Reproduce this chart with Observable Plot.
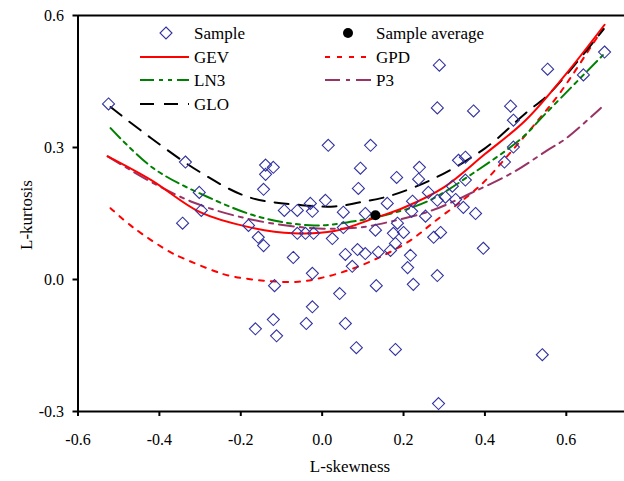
<!DOCTYPE html>
<html><head><meta charset="utf-8">
<script src="https://cdn.jsdelivr.net/npm/d3@7"></script>
<script src="https://cdn.jsdelivr.net/npm/@observablehq/plot@0.6"></script>
<style>
body{margin:0;background:#fff}
#chart{position:relative;width:624px;height:481px}
#chart svg g[aria-label*="axis"] line, #chart svg g[aria-label*="axis"] path{stroke-width:2px}
</style>
</head><body><div id="chart"></div>
<script>
// Sample L-moment ratios (L-skewness, L-kurtosis)
const sampleSkew = [-0.525,-0.336,-0.302,-0.297,-0.343,-0.139,-0.120,-0.139,-0.144,0.015,0.119,0.094,0.239,0.183,0.237,0.089,0.008,-0.029,-0.061,-0.093,-0.024,0.052,0.160,0.222,0.220,0.106,0.254,-0.181,-0.157,-0.144,-0.061,-0.041,-0.021,0.025,0.052,0.131,0.185,0.175,0.200,0.180,0.274,0.291,-0.071,0.057,0.087,0.106,0.138,0.168,0.217,0.210,0.074,-0.024,0.283,0.396,0.288,0.283,0.372,0.463,0.470,0.470,0.554,0.694,0.642,0.335,0.352,0.448,0.352,0.261,0.283,0.303,0.320,0.328,0.347,0.377,-0.117,0.133,0.224,0.043,-0.024,-0.164,-0.120,-0.112,-0.039,0.057,0.084,0.180,0.541,0.286];
const sampleKurt = [0.399,0.267,0.198,0.157,0.128,0.260,0.255,0.239,0.205,0.305,0.305,0.253,0.255,0.232,0.228,0.207,0.180,0.173,0.157,0.157,0.155,0.153,0.173,0.178,0.155,0.150,0.144,0.123,0.096,0.077,0.105,0.105,0.105,0.093,0.118,0.112,0.128,0.105,0.107,0.082,0.096,0.107,0.050,0.057,0.068,0.059,0.062,0.066,0.055,0.027,0.030,0.014,0.009,0.071,0.487,0.390,0.383,0.394,0.362,0.301,0.478,0.517,0.465,0.271,0.278,0.267,0.226,0.198,0.180,0.187,0.212,0.182,0.164,0.150,-0.014,-0.014,-0.011,-0.032,-0.062,-0.112,-0.091,-0.128,-0.100,-0.100,-0.155,-0.159,-0.171,-0.282];
const avgSkew = [0.131];
const avgKurt = [0.146];

// Theoretical curves
const gevX = [-0.527,-0.42,-0.3,-0.18,-0.07,0.03,0.13,0.2,0.3,0.4,0.5,0.6,0.694];
const gevY = [0.280,0.226,0.153,0.119,0.105,0.110,0.140,0.163,0.210,0.285,0.362,0.468,0.579];
const gpdX = [-0.52,-0.464,-0.373,-0.341,-0.267,-0.23,-0.15,-0.058,0.013,0.082,0.151,0.217,0.274,0.389,0.463,0.537,0.586,0.667,0.69];
const gpdY = [0.162,0.118,0.062,0.048,0.020,0.009,-0.002,-0.005,0.007,0.027,0.055,0.089,0.130,0.214,0.289,0.369,0.426,0.538,0.570];
const ln3X = [-0.52,-0.415,-0.28,-0.15,-0.02,0.09,0.17,0.26,0.37,0.49,0.55,0.69];
const ln3Y = [0.344,0.253,0.187,0.141,0.123,0.134,0.150,0.178,0.241,0.321,0.378,0.510];
const p3X = [-0.527,-0.415,-0.316,-0.218,-0.12,-0.01,0.09,0.17,0.27,0.365,0.47,0.554,0.6,0.685];
const p3Y = [0.280,0.219,0.175,0.146,0.127,0.116,0.118,0.132,0.157,0.196,0.244,0.294,0.321,0.390];
const gloX = [-0.52,-0.42,-0.3,-0.18,-0.05,0.03,0.09,0.17,0.28,0.4,0.5,0.56,0.692];
const gloY = [0.392,0.321,0.244,0.187,0.169,0.166,0.175,0.191,0.232,0.298,0.378,0.424,0.569];

const xTicks = [-0.6,-0.4,-0.2,0.0,0.2,0.4,0.6];
const yTicks = [-0.3,0.0,0.3,0.6];
const xDomain = [-0.6, 0.743];
const yDomain = [-0.3, 0.6];

const series = [
  {name:"GPD", x:gpdX, y:gpdY, color:"#ff0000", dash:"5,7", col:1, row:1},
  {name:"P3",  x:p3X,  y:p3Y,  color:"#993366", dash:"15,6,4,6", col:1, row:2},
  {name:"LN3", x:ln3X, y:ln3Y, color:"#008000", dash:"14,5,4,5,4,5", col:0, row:2},
  {name:"GLO", x:gloX, y:gloY, color:"#000000", dash:"14,10", col:0, row:3},
  {name:"GEV", x:gevX, y:gevY, color:"#ff0000", dash:null, col:0, row:1}
];

const samples = sampleSkew.map((s,i)=>({s, k:sampleKurt[i]}));
const avg = avgSkew.map((s,i)=>({s, k:avgKurt[i]}));

const diamond = {draw(ctx, size){ const h = Math.sqrt(size/2); ctx.moveTo(0,-h); ctx.lineTo(h,0); ctx.lineTo(0,h); ctx.lineTo(-h,0); ctx.closePath(); }};

const marks = [];
for (const c of series) {
  const pts = c.x.map((x,i)=>({x, y:c.y[i]}));
  marks.push(Plot.line(pts, {x:"x", y:"y", stroke:c.color, strokeWidth:2, curve:"catmull-rom", strokeDasharray: c.dash || undefined}));
}
marks.push(Plot.dot(samples, {x:"s", y:"k", symbol:diamond, r:4.8, stroke:"#3333a0", fill:"none", strokeWidth:1.1}));
marks.push(Plot.dot(avg, {x:"s", y:"k", r:5, fill:"#000", stroke:"none"}));
marks.push(Plot.ruleX([xDomain[0]], {stroke:"#000", strokeWidth:2}));
marks.push(Plot.ruleY([yDomain[0]], {stroke:"#000", strokeWidth:2}));
marks.push(Plot.ruleY([yDomain[1]], {stroke:"#000", strokeWidth:2}));

const svg = Plot.plot({
  width:624, height:481,
  marginLeft:77.5, marginRight:0, marginTop:15, marginBottom:70,
  style:{fontFamily:"'Liberation Serif', 'Times New Roman', serif", fontSize:"16px", background:"#fff", color:"#000"},
  x:{domain:xDomain, ticks:xTicks, tickFormat:d=>d.toFixed(1), tickSize:5, tickPadding:17, label:null},
  y:{domain:yDomain, ticks:yTicks, tickFormat:d=>d.toFixed(1), tickSize:5, tickPadding:9, label:null},
  marks
});
document.getElementById("chart").appendChild(svg);

// Axis titles and legend
const g = d3.select(svg).append("g").attr("font-family","'Liberation Serif', 'Times New Roman', serif").attr("font-size","17px").attr("fill","#000").attr("text-anchor","start");
g.append("text").attr("x",350).attr("y",466).attr("text-anchor","middle").attr("dy","0.35em").text("L-skewness");
g.append("text").attr("transform","translate(26,215) rotate(-90)").attr("text-anchor","middle").attr("dy","0.35em").text("L-kurtosis");

const rowY = [33,57,80,104];
const colLine = [[140,189],[325,373]];
const colText = [194,376];
g.append("path").attr("d", ()=>{const h=6; const cx=166, cy=rowY[0]; return `M${cx},${cy-h}L${cx+h},${cy}L${cx},${cy+h}L${cx-h},${cy}Z`;}).attr("fill","none").attr("stroke","#3333a0").attr("stroke-width",1.1);
g.append("text").attr("x",colText[0]).attr("y",rowY[0]).attr("dy","0.35em").attr("text-anchor","start").text("Sample");
g.append("circle").attr("cx",348).attr("cy",rowY[0]).attr("r",5).attr("fill","#000");
g.append("text").attr("x",colText[1]).attr("y",rowY[0]).attr("dy","0.35em").attr("text-anchor","start").text("Sample average");
for (const c of series) {
  const [x1,x2] = colLine[c.col];
  g.append("line").attr("x1",x1).attr("x2",x2).attr("y1",rowY[c.row]).attr("y2",rowY[c.row]).attr("stroke",c.color).attr("stroke-width",2).attr("stroke-dasharray",c.dash);
  g.append("text").attr("x",colText[c.col]).attr("y",rowY[c.row]).attr("dy","0.35em").attr("text-anchor","start").text(c.name);
}
</script>
</body></html>
